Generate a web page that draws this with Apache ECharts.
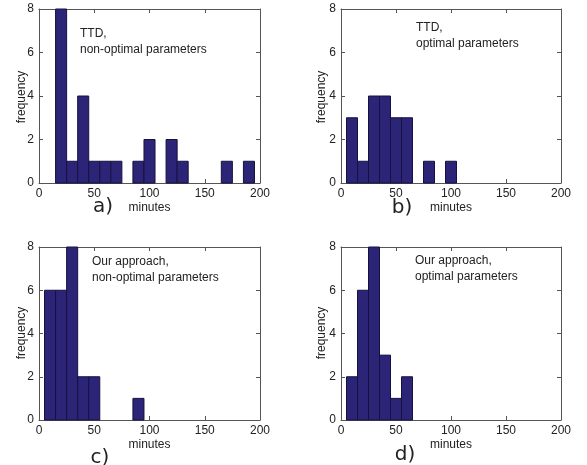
<!DOCTYPE html>
<html>
<head>
<meta charset="utf-8">
<title>histograms</title>
<script src="https://cdn.jsdelivr.net/npm/echarts@6/dist/echarts.min.js"></script>
<style>
  html, body { margin: 0; padding: 0; background: #fff; }
  #chart { width: 587px; height: 465px; }
</style>
</head>
<body>
<div id="chart"></div>
<script>
// bin centres (minutes) and counts, bin width 10
const binWidth = 10
const centersA = [20, 30, 40, 50, 60, 70, 80, 90, 100, 110, 120, 130, 140, 150, 160, 170, 180, 190]
const countsA = [8, 1, 4, 1, 1, 1, 0, 1, 2, 0, 2, 1, 0, 0, 0, 1, 0, 1]
const centersB = [10, 20, 30, 40, 50, 60, 70, 80, 90, 100]
const countsB = [3, 1, 4, 4, 3, 3, 0, 1, 0, 1]
const centersC = [10, 20, 30, 40, 50, 60, 70, 80, 90]
const countsC = [6, 6, 8, 2, 2, 0, 0, 0, 1]
const centersD = [10, 20, 30, 40, 50, 60]
const countsD = [2, 6, 8, 3, 1, 2]

const xTicks = [0, 50, 100, 150, 200]
const yTicks = [0, 2, 4, 6, 8]

const notes = [
  'TTD,\nnon-optimal parameters',
  'TTD,\noptimal parameters',
  'Our approach,\nnon-optimal parameters',
  'Our approach,\noptimal parameters'
]
const letters = ['a)', 'b)', 'c)', 'd)']

const barColor = '#2b2477'
const edgeColor = '#16123f'
const axisColor = '#555'
const textColor = '#222'
const font = 'Liberation Sans, Arial, sans-serif'

const panels = [
  { centers: centersA, counts: countsA, left: 39, top: 9, width: 221, height: 174, note: [80, 26], letter: [103, 207], name: [22, 97] },
  { centers: centersB, counts: countsB, left: 341, top: 9, width: 220, height: 174, note: [416, 20], letter: [402, 208], name: [322, 97] },
  { centers: centersC, counts: countsC, left: 39, top: 247, width: 221, height: 173, note: [92, 254], letter: [100, 458], name: [22, 333] },
  { centers: centersD, counts: countsD, left: 341, top: 247, width: 220, height: 173, note: [415, 253], letter: [405, 455], name: [322, 333] }
]

const chart = echarts.init(document.getElementById('chart'), null, { renderer: 'canvas' })

const grid = []
const xAxis = []
const yAxis = []
const series = []
const graphic = []

panels.forEach(function (p, i) {
  grid.push({ left: p.left, top: p.top, width: p.width, height: p.height, show: false })
  const base = {
    gridIndex: i,
    type: 'value',
    axisLine: { show: true, onZero: false, lineStyle: { color: axisColor, width: 1 } },
    axisTick: { show: true, inside: true, length: 4, lineStyle: { color: axisColor } },
    splitLine: { show: false }
  }
  xAxis.push(Object.assign({}, base, {
    position: 'bottom',
    min: xTicks[0], max: xTicks[xTicks.length - 1], interval: 50,
    axisLabel: { color: textColor, fontSize: 12, fontFamily: font, margin: 5 },
    name: 'minutes', nameLocation: 'middle', nameGap: 19,
    nameTextStyle: { color: textColor, fontSize: 12, fontFamily: font }
  }))
  xAxis.push(Object.assign({}, base, {
    position: 'top',
    min: xTicks[0], max: xTicks[xTicks.length - 1], interval: 50,
    axisLabel: { show: false }
  }))
  yAxis.push(Object.assign({}, base, {
    position: 'left',
    min: yTicks[0], max: yTicks[yTicks.length - 1], interval: 2,
    axisLabel: { color: textColor, fontSize: 12, fontFamily: font, margin: 5 }
  }))
  yAxis.push(Object.assign({}, base, {
    position: 'right',
    min: yTicks[0], max: yTicks[yTicks.length - 1], interval: 2,
    axisLabel: { show: false }
  }))

  const data = []
  p.centers.forEach(function (c, k) {
    if (p.counts[k] > 0) data.push([c - binWidth / 2, c + binWidth / 2, p.counts[k]])
  })
  series.push({
    type: 'custom',
    xAxisIndex: 2 * i,
    yAxisIndex: 2 * i,
    data: data,
    renderItem: function (params, api) {
      const p0 = api.coord([api.value(0), api.value(2)])
      const p1 = api.coord([api.value(1), 0])
      return {
        type: 'rect',
        shape: { x: p0[0], y: p0[1], width: p1[0] - p0[0], height: p1[1] - p0[1] },
        style: { fill: barColor, stroke: edgeColor, lineWidth: 1 }
      }
    }
  })

  graphic.push({
    type: 'text', left: p.note[0], top: p.note[1],
    style: { text: notes[i], fill: textColor, font: '12px ' + font, lineHeight: 16 }
  })
  graphic.push({
    type: 'text', x: p.letter[0], y: p.letter[1],
    style: { text: letters[i], fill: textColor, font: '20px DejaVu Sans, sans-serif', align: 'center', verticalAlign: 'middle' }
  })
  graphic.push({
    type: 'text', x: p.name[0], y: p.name[1], rotation: Math.PI / 2,
    style: { text: 'frequency', fill: textColor, font: '12px ' + font, align: 'center', verticalAlign: 'middle' }
  })
})

chart.setOption({
  animation: false,
  grid: grid,
  xAxis: xAxis,
  yAxis: yAxis,
  series: series,
  graphic: graphic
})
</script>
</body>
</html>
